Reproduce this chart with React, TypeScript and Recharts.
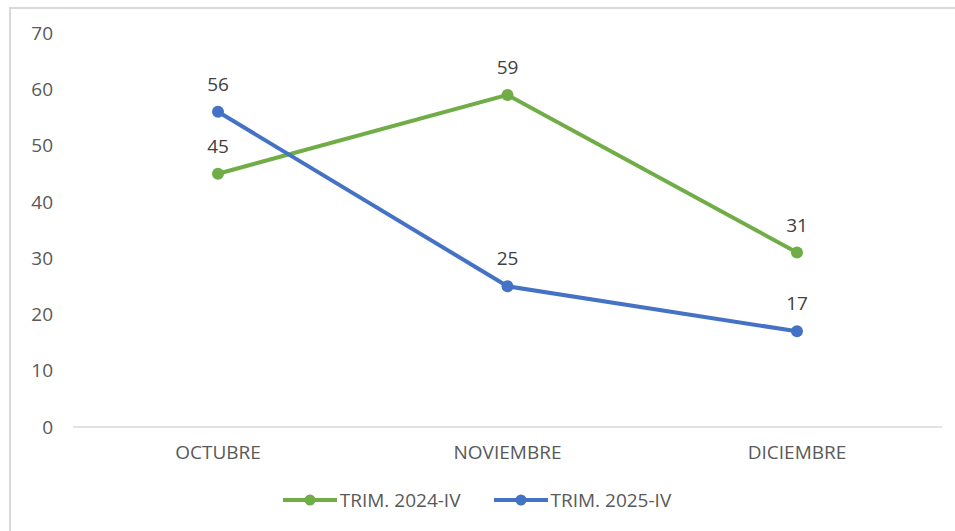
import React from 'react';
import { LineChart, Line, XAxis, YAxis, LabelList, Legend } from 'recharts';

const months = ['OCTUBRE', 'NOVIEMBRE', 'DICIEMBRE'];
const trim2024 = [45, 59, 31];
const trim2025 = [56, 25, 17];
const yTicks = [0, 10, 20, 30, 40, 50, 60, 70];

const GREEN = '#70ad47';
const BLUE = '#4472c4';
const FONT = '"Open Sans", sans-serif';

const data = months.map((m, i) => ({ month: m, a: trim2024[i], b: trim2025[i] }));

const legendItems = [
    { label: 'TRIM. 2024-IV', color: GREEN },
    { label: 'TRIM. 2025-IV', color: BLUE },
];

function CustomLegend() {
    return (
        <div style={{ display: 'flex', justifyContent: 'center', alignItems: 'center', fontFamily: FONT, fontSize: 19, color: '#595959' }}>
            {legendItems.map((it, i) => (
                <div key={it.label} style={{ display: 'flex', alignItems: 'center', marginLeft: i === 0 ? 0 : 31 }}>
                    <svg width={58} height={14}>
                        <line x1={2} y1={7} x2={56} y2={7} stroke={it.color} strokeWidth={4} />
                        <circle cx={29} cy={7} r={5.5} fill={it.color} />
                    </svg>
                    <span style={{ marginLeft: 1 }}>{it.label}</span>
                </div>
            ))}
        </div>
    );
}

export default function App() {
    return (
        <div style={{ position: 'absolute', left: 0, top: 0, width: 955, height: 531, background: '#fff', overflow: 'hidden' }}>
            <div style={{ position: 'absolute', left: 9, top: 7, width: 960, height: 540, borderTop: '2px solid #d9d9d9', borderLeft: '2px solid #d9d9d9' }} />
            <div style={{ position: 'absolute', left: 0, top: 0 }}>
                <LineChart width={955} height={531} data={data} margin={{ top: 33, right: 13, left: 10, bottom: 18 }}>
                    <XAxis
                        dataKey="month"
                        padding={{ left: 145, right: 145 }}
                        axisLine={{ stroke: '#d9d9d9', strokeWidth: 1.5 }}
                        tickLine={false}
                        tickSize={0}
                        tickMargin={19}
                        height={60}
                        tick={{ fill: '#595959', fontSize: 19, fontFamily: FONT }}
                    />
                    <YAxis
                        domain={[0, 70]}
                        ticks={yTicks}
                        axisLine={false}
                        tickLine={false}
                        tickSize={0}
                        tickMargin={20}
                        width={63}
                        tick={{ fill: '#595959', fontSize: 19, fontFamily: FONT }}
                    />
                    <Legend verticalAlign="bottom" content={() => <CustomLegend />} />
                    <Line dataKey="a" stroke={GREEN} strokeWidth={4} dot={{ r: 6, fill: GREEN, stroke: GREEN, strokeWidth: 0 }} isAnimationActive={false}>
                        <LabelList dataKey="a" position="top" offset={21} style={{ fill: '#404040', fontSize: 19, fontFamily: FONT }} />
                    </Line>
                    <Line dataKey="b" stroke={BLUE} strokeWidth={4} dot={{ r: 6, fill: BLUE, stroke: BLUE, strokeWidth: 0 }} isAnimationActive={false}>
                        <LabelList dataKey="b" position="top" offset={21} style={{ fill: '#404040', fontSize: 19, fontFamily: FONT }} />
                    </Line>
                </LineChart>
            </div>
        </div>
    );
}
